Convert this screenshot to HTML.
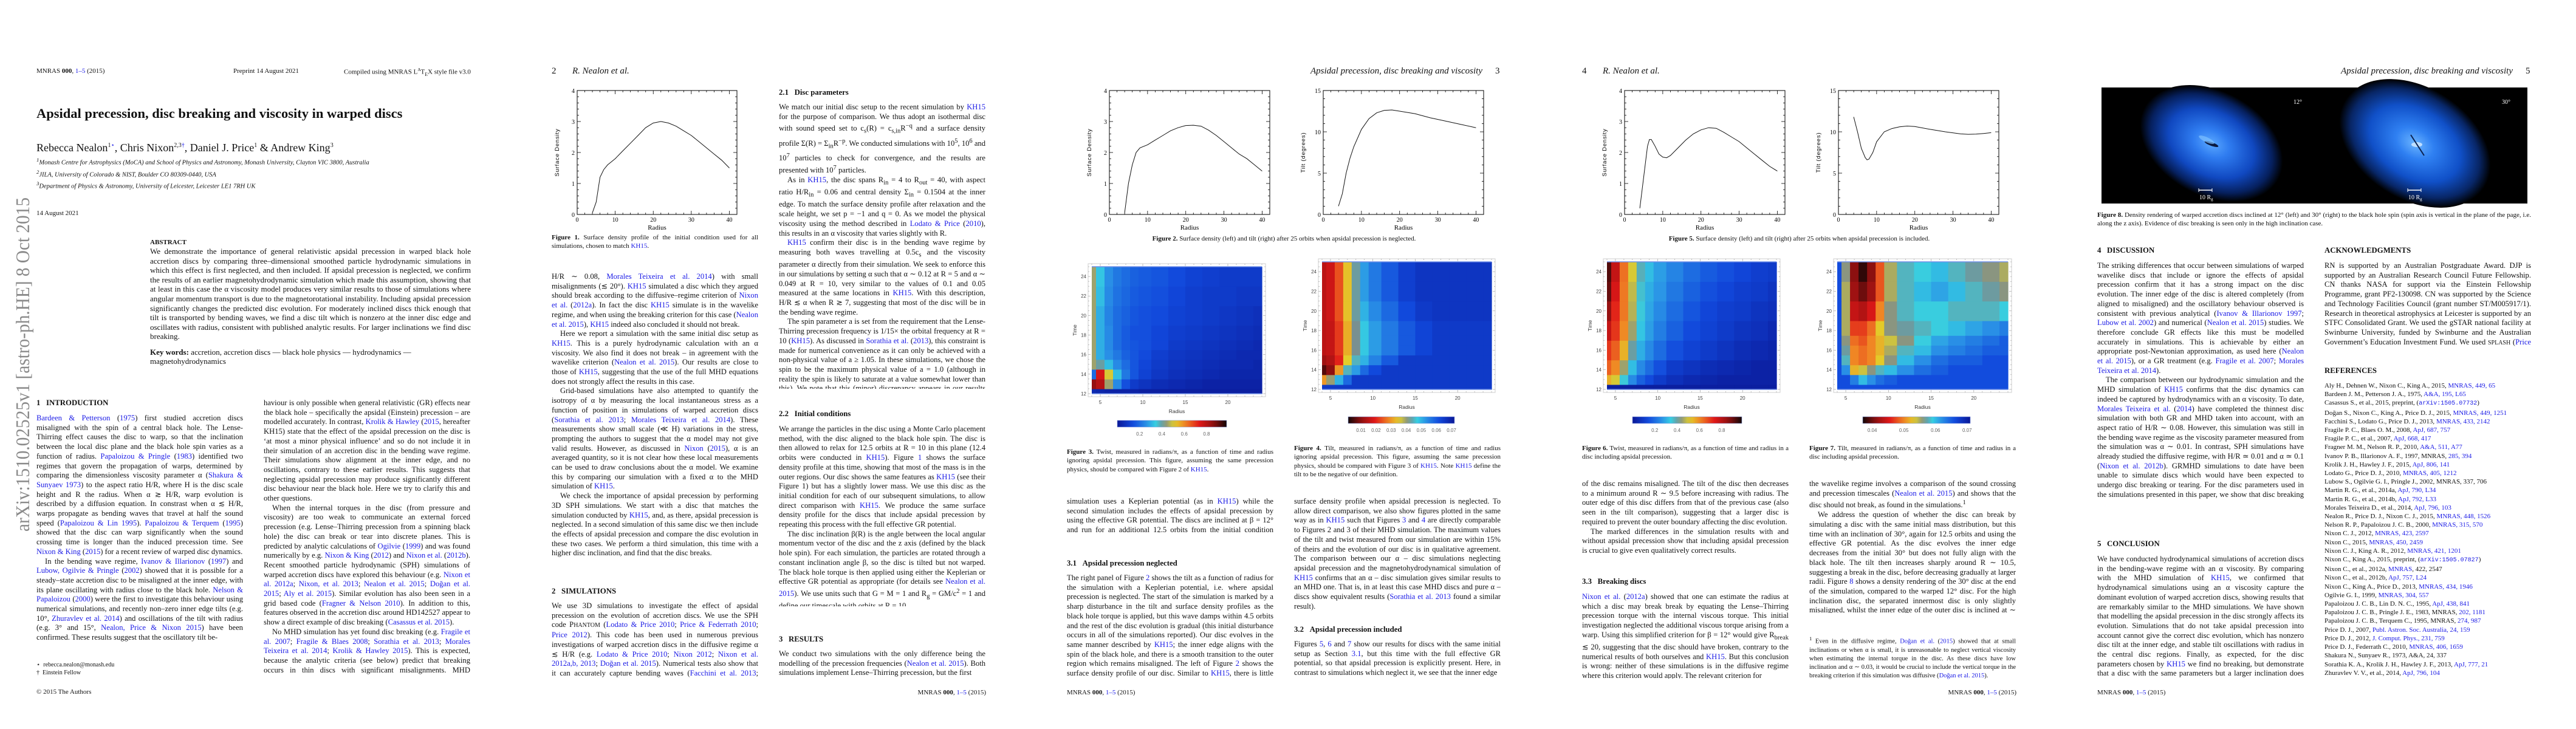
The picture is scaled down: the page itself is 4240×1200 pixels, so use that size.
<!DOCTYPE html>
<html><head><meta charset="utf-8"><title>Apsidal precession, disc breaking and viscosity in warped discs</title>
<style>
html,body{margin:0;padding:0;background:#fff;}
body{width:4240px;height:1200px;position:relative;overflow:hidden;font-family:"Liberation Serif",serif;color:#111;}
.t{position:absolute;margin:0;}
.col{position:absolute;width:340px;font-size:12.6px;line-height:15.7px;text-align:justify;overflow:hidden;}
.col p{margin:0;text-indent:0;}
.col p+p{text-indent:14px;}
.h{position:absolute;font-weight:bold;font-size:12.8px;white-space:nowrap;}
.hdr{position:absolute;font-size:11px;white-space:nowrap;}
.run{position:absolute;font-size:15px;font-style:italic;white-space:nowrap;}
.cap{position:absolute;font-size:11px;line-height:14.4px;text-align:justify;overflow:hidden;}
.foot{position:absolute;font-size:11px;white-space:nowrap;}
.b{color:#1a1ae6;}
.ref{position:absolute;left:3826px;top:628px;width:345px;font-size:11px;line-height:14.2px;}
.ref div{white-space:nowrap;overflow:hidden;}
svg text{font-family:"Liberation Sans",sans-serif;}
</style></head>
<body>

<!-- ===== PAGE 1 ===== -->
<div class="hdr" style="left:60px;top:111px">MNRAS <b>000</b>, <span class="b">1–5</span> (2015)</div>
<div class="hdr" style="left:384px;top:111px">Preprint 14 August 2021</div>
<div class="hdr" style="left:566px;top:111px">Compiled using MNRAS L<sup style="font-size:7px">A</sup>T<sub style="font-size:8px">E</sub>X style file v3.0</div>
<div class="t" style="left:60px;top:174px;font-size:22.5px;font-weight:bold;white-space:nowrap">Apsidal precession, disc breaking and viscosity in warped discs</div>
<div class="t" style="left:60px;top:233px;font-size:18px;white-space:nowrap">Rebecca Nealon<sup style="font-size:10px">1<span class="b">⋆</span></sup>, Chris Nixon<sup style="font-size:10px">2,3<span class="b">†</span></sup>, Daniel J. Price<sup style="font-size:10px">1</sup> &amp; Andrew King<sup style="font-size:10px">3</sup></div>
<div class="t" style="left:60px;top:256px;font-size:10.5px;font-style:italic;line-height:14px;white-space:nowrap"><sup>1</sup>Monash Centre for Astrophysics (MoCA) and School of Physics and Astronomy, Monash University, Clayton VIC 3800, Australia<br><sup>2</sup>JILA, University of Colorado &amp; NIST, Boulder CO 80309-0440, USA<br><sup>3</sup>Department of Physics &amp; Astronomy, University of Leicester, Leicester LE1 7RH UK</div>
<div class="hdr" style="left:60px;top:345px">14 August 2021</div>
<div class="h" style="left:247px;top:393px;font-size:11px">ABSTRACT</div>
<div class="col" style="left:247px;top:406px;width:528px;height:158px;font-size:13px;line-height:15.6px"><p>We demonstrate the importance of general relativistic apsidal precession in warped black hole accretion discs by comparing three–dimensional smoothed particle hydrodynamic simulations in which this effect is first neglected, and then included. If apsidal precession is neglected, we confirm the results of an earlier magnetohydrodynamic simulation which made this assumption, showing that at least in this case the α viscosity model produces very similar results to those of simulations where angular momentum transport is due to the magnetorotational instability. Including apsidal precession significantly changes the predicted disc evolution. For moderately inclined discs thick enough that tilt is transported by bending waves, we find a disc tilt which is nonzero at the inner disc edge and oscillates with radius, consistent with published analytic results. For larger inclinations we find disc breaking.</p></div>
<div class="col" style="left:247px;top:572px;width:528px;height:32px;font-size:13px;line-height:15.4px;text-align:left"><b>Key words:</b> accretion, accretion discs — black hole physics — hydrodynamics — magnetohydrodynamics</div>

<div class="h" style="left:60px;top:656px">1&nbsp;&nbsp;&nbsp;INTRODUCTION</div>
<div class="col" style="left:60px;top:681px;height:377px"><p><span class="b">Bardeen &amp; Petterson</span> (<span class="b">1975</span>) first studied accretion discs misaligned with the spin of a central black hole. The Lense-Thirring effect causes the disc to warp, so that the inclination between the local disc plane and the black hole spin varies as a function of radius. <span class="b">Papaloizou &amp; Pringle</span> (<span class="b">1983</span>) identified two regimes that govern the propagation of warps, determined by comparing the dimensionless viscosity parameter α (<span class="b">Shakura &amp; Sunyaev 1973</span>) to the aspect ratio H/R, where H is the disc scale height and R the radius. When α ≳ H/R, warp evolution is described by a diffusion equation. In constrast when α ≲ H/R, warps propagate as bending waves that travel at half the sound speed (<span class="b">Papaloizou &amp; Lin 1995</span>). <span class="b">Papaloizou &amp; Terquem</span> (<span class="b">1995</span>) showed that the disc can warp significantly when the sound crossing time is longer than the induced precession time. See <span class="b">Nixon &amp; King</span> (<span class="b">2015</span>) for a recent review of warped disc dynamics.</p><p>In the bending wave regime, <span class="b">Ivanov &amp; Illarionov</span> (<span class="b">1997</span>) and <span class="b">Lubow, Ogilvie &amp; Pringle</span> (<span class="b">2002</span>) showed that it is possible for a steady–state accretion disc to be misaligned at the inner edge, with its plane oscillating with radius close to the black hole. <span class="b">Nelson &amp; Papaloizou</span> (<span class="b">2000</span>) were the first to investigate this behaviour using numerical simulations, and recently non–zero inner edge tilts (e.g. 10°, <span class="b">Zhuravlev et al. 2014</span>) and oscillations of the tilt with radius (e.g. 3° and 15°, <span class="b">Nealon, Price &amp; Nixon 2015</span>) have been confirmed. These results suggest that the oscillatory tilt be-</p></div>
<div class="foot" style="left:60px;top:1088px;font-size:10px;line-height:13px">⋆&nbsp; rebecca.nealon@monash.edu<br>†&nbsp; Einstein Fellow</div>
<div class="foot" style="left:60px;top:1133px">© 2015 The Authors</div>

<div class="col" style="left:434px;top:656px;height:456px"><p>haviour is only possible when general relativistic (GR) effects near the black hole – specifically the apsidal (Einstein) precession – are modelled accurately. In contrast, <span class="b">Krolik &amp; Hawley</span> (<span class="b">2015</span>, hereafter KH15) state that the effect of the apsidal precession on the disc is ‘at most a minor physical influence’ and so do not include it in their simulation of an accretion disc in the bending wave regime. Their simulations show alignment at the inner edge, and no oscillations, contrary to these earlier results. This suggests that neglecting apsidal precession may produce significantly different disc behaviour near the black hole. Here we try to clarify this and other questions.</p><p>When the internal torques in the disc (from pressure and viscosity) are too weak to communicate an external forced precession (e.g. Lense–Thirring precession from a spinning black hole) the disc can break or tear into discrete planes. This is predicted by analytic calculations of <span class="b">Ogilvie</span> (<span class="b">1999</span>) and was found numerically by e.g. <span class="b">Nixon &amp; King</span> (<span class="b">2012</span>) and <span class="b">Nixon et al.</span> (<span class="b">2012b</span>). Recent smoothed particle hydrodynamic (SPH) simulations of warped accretion discs have explored this behaviour (e.g. <span class="b">Nixon et al. 2012a</span>; <span class="b">Nixon, et al. 2013</span>; <span class="b">Nealon et al. 2015</span>; <span class="b">Doğan et al. 2015</span>; <span class="b">Aly et al. 2015</span>). Similar evolution has also been seen in a grid based code (<span class="b">Fragner &amp; Nelson 2010</span>). In addition to this, features observed in the accretion disc around HD142527 appear to show a direct example of disc breaking (<span class="b">Casassus et al. 2015</span>).</p><p>No MHD simulation has yet found disc breaking (e.g. <span class="b">Fragile et al. 2007</span>; <span class="b">Fragile &amp; Blaes 2008</span>; <span class="b">Sorathia et al. 2013</span>; <span class="b">Morales Teixeira et al. 2014</span>; <span class="b">Krolik &amp; Hawley 2015</span>). This is expected, because the analytic criteria (see below) predict that breaking occurs in thin discs with significant misalignments. MHD simulations are currently restricted to thick discs (the thinnest has</p></div>

<!-- ===== PAGE 2 ===== -->
<div class="run" style="left:908px;top:109px;font-style:normal">2</div>
<div class="run" style="left:942px;top:109px">R. Nealon et al.</div>
<div class="cap" style="left:908px;top:384px;width:340px;height:30px"><b>Figure 1.</b> Surface density profile of the initial condition used for all simulations, chosen to match <span class="b">KH15</span>.</div>
<div class="col" style="left:908px;top:448px;height:471px"><p>H/R ∼ 0.08, <span class="b">Morales Teixeira et al. 2014</span>) with small misalignments (≲ 20°). <span class="b">KH15</span> simulated a disc which they argued should break according to the diffusive–regime criterion of <span class="b">Nixon et al.</span> (<span class="b">2012a</span>). In fact the disc <span class="b">KH15</span> simulate is in the wavelike regime, and when using the breaking criterion for this case (<span class="b">Nealon et al. 2015</span>), <span class="b">KH15</span> indeed also concluded it should not break.</p><p>Here we report a simulation with the same initial disc setup as <span class="b">KH15</span>. This is a purely hydrodynamic calculation with an α viscosity. We also find it does not break – in agreement with the wavelike criterion (<span class="b">Nealon et al. 2015</span>). Our results are close to those of <span class="b">KH15</span>, suggesting that the use of the full MHD equations does not strongly affect the results in this case.</p><p>Grid-based simulations have also attempted to quantify the isotropy of α by measuring the local instantaneous stress as a function of position in simulations of warped accretion discs (<span class="b">Sorathia et al. 2013</span>; <span class="b">Morales Teixeira et al. 2014</span>). These measurements show small scale (≪ H) variations in the stress, prompting the authors to suggest that the α model may not give valid results. However, as discussed in <span class="b">Nixon</span> (<span class="b">2015</span>), α is an averaged quantity, so it is not clear how these local measurements can be used to draw conclusions about the α model. We examine this by comparing our simulation with a fixed α to the MHD simulation of <span class="b">KH15</span>.</p><p>We check the importance of apsidal precession by performing 3D SPH simulations. We start with a disc that matches the simulation conducted by <span class="b">KH15</span>, and, as there, apsidal precession is neglected. In a second simulation of this same disc we then include the effects of apsidal precession and compare the disc evolution in these two cases. We perform a third simulation, this time with a higher disc inclination, and find that the disc breaks.</p></div>
<div class="h" style="left:908px;top:966px">2&nbsp;&nbsp;&nbsp;SIMULATIONS</div>
<div class="col" style="left:908px;top:990px;height:126px"><p>We use 3D simulations to investigate the effect of apsidal precession on the evolution of accretion discs. We use the SPH code P<span style="font-size:10px">HANTOM</span> (<span class="b">Lodato &amp; Price 2010</span>; <span class="b">Price &amp; Federrath 2010</span>; <span class="b">Price 2012</span>). This code has been used in numerous previous investigations of warped accretion discs in the diffusive regime α ≲ H/R (e.g. <span class="b">Lodato &amp; Price 2010</span>; <span class="b">Nixon 2012</span>; <span class="b">Nixon et al. 2012a,b, 2013</span>; <span class="b">Doğan et al. 2015</span>). Numerical tests also show that it can accurately capture bending waves (<span class="b">Facchini et al. 2013</span>; <span class="b">Nealon et al. 2015</span>).</p></div>

<div class="h" style="left:1282px;top:145px">2.1&nbsp;&nbsp;&nbsp;Disc parameters</div>
<div class="col" style="left:1282px;top:169px;height:471px"><p>We match our initial disc setup to the recent simulation by <span class="b">KH15</span> for the purpose of comparison. We thus adopt an isothermal disc with sound speed set to c<sub>s</sub>(R) = c<sub>s,in</sub>R<sup>−q</sup> and a surface density profile Σ(R) = Σ<sub>in</sub>R<sup>−p</sup>. We conducted simulations with 10<sup>5</sup>, 10<sup>6</sup> and 10<sup>7</sup> particles to check for convergence, and the results are presented with 10<sup>7</sup> particles.</p><p>As in <span class="b">KH15</span>, the disc spans R<sub>in</sub> = 4 to R<sub>out</sub> = 40, with aspect ratio H/R<sub>in</sub> = 0.06 and central density Σ<sub>in</sub> = 0.1504 at the inner edge. To match the surface density profile after relaxation and the scale height, we set p = −1 and q = 0. As we model the physical viscosity using the method described in <span class="b">Lodato &amp; Price</span> (<span class="b">2010</span>), this results in an α viscosity that varies slightly with R.</p><p><span class="b">KH15</span> confirm their disc is in the bending wave regime by measuring both waves travelling at 0.5c<sub>s</sub> and the viscosity parameter α directly from their simulation. We seek to enforce this in our simulations by setting α such that α ∼ 0.12 at R = 5 and α ∼ 0.049 at R = 10, very similar to the values of 0.1 and 0.05 measured at the same locations in <span class="b">KH15</span>. With this description, H/R ≲ α when R ≳ 7, suggesting that most of the disc will be in the bending wave regime.</p><p>The spin parameter a is set from the requirement that the Lense-Thirring precession frequency is 1/15× the orbital frequency at R = 10 (<span class="b">KH15</span>). As discussed in <span class="b">Sorathia et al.</span> (<span class="b">2013</span>), this constraint is made for numerical convenience as it can only be achieved with a non-physical value of a ≥ 1.05. In these simulations, we chose the spin to be the maximum physical value of a = 1.0 (although in reality the spin is likely to saturate at a value somewhat lower than this). We note that this (minor) discrepancy appears in our results in that the black hole torque appears to affect the disc more slowly than observed in <span class="b">KH15</span>.</p></div>
<div class="h" style="left:1282px;top:674px">2.2&nbsp;&nbsp;&nbsp;Initial conditions</div>
<div class="col" style="left:1282px;top:699px;height:299px"><p>We arrange the particles in the disc using a Monte Carlo placement method, with the disc aligned to the black hole spin. The disc is then allowed to relax for 12.5 orbits at R = 10 in this plane (12.4 orbits were conducted in <span class="b">KH15</span>). Figure <span class="b">1</span> shows the surface density profile at this time, showing that most of the mass is in the outer regions. Our disc shows the same features as <span class="b">KH15</span> (see their Figure 1) but has a slightly lower mass. We use this disc as the initial condition for each of our subsequent simulations, to allow direct comparison with <span class="b">KH15</span>. We produce the same surface density profile for the discs that include apsidal precession by repeating this process with the full effective GR potential.</p><p>The disc inclination β(R) is the angle between the local angular momentum vector of the disc and the z axis (defined by the black hole spin). For each simulation, the particles are rotated through a constant inclination angle β, so the disc is tilted but not warped. The black hole torque is then applied using either the Keplerian or effective GR potential as appropriate (for details see <span class="b">Nealon et al. 2015</span>). We use units such that G = M = 1 and R<sub>g</sub> = GM/c<sup>2</sup> = 1 and define our timescale with orbits at R = 10.</p></div>
<div class="h" style="left:1282px;top:1045px">3&nbsp;&nbsp;&nbsp;RESULTS</div>
<div class="col" style="left:1282px;top:1069px;height:48px"><p>We conduct two simulations with the only difference being the modelling of the precession frequencies (<span class="b">Nealon et al. 2015</span>). Both simulations implement Lense–Thirring precession, but the first</p></div>
<div class="foot" style="right:2617px;top:1134px">MNRAS <b>000</b>, <span class="b">1–5</span> (2015)</div>

<!-- ===== PAGE 3 ===== -->
<div class="run" style="right:1800px;top:109px">Apsidal precession, disc breaking and viscosity</div>
<div class="run" style="left:2461px;top:109px;font-style:normal">3</div>
<div class="cap" style="left:1756px;top:386px;width:715px;height:16px;text-align:center;white-space:nowrap"><b>Figure 2.</b> Surface density (left) and tilt (right) after 25 orbits when apsidal precession is neglected.</div>
<div class="cap" style="left:1756px;top:737px;width:340px;height:45px"><b>Figure 3.</b> Twist, measured in radians/π, as a function of time and radius ignoring apsidal precession. This figure, assuming the same precession physics, should be compared with Figure 2 of <span class="b">KH15</span>.</div>
<div class="col" style="left:1756px;top:818px;height:63px"><p>simulation uses a Keplerian potential (as in <span class="b">KH15</span>) while the second simulation includes the effects of apsidal precession by using the effective GR potential. The discs are inclined at β = 12° and run for an additional 12.5 orbits from the initial condition described in Section <span class="b">2.2</span>, as described in <span class="b">KH15</span>.</p></div>
<div class="h" style="left:1756px;top:920px">3.1&nbsp;&nbsp;&nbsp;Apsidal precession neglected</div>
<div class="col" style="left:1756px;top:944px;height:173px"><p>The right panel of Figure <span class="b">2</span> shows the tilt as a function of radius for the simulation with a Keplerian potential, i.e. where apsidal precession is neglected. The start of the simulation is marked by a sharp disturbance in the tilt and surface density profiles as the black hole torque is applied, but this wave damps within 4.5 orbits and the rest of the disc evolution is gradual (this initial disturbance occurs in all of the simulations reported). Our disc evolves in the same manner described by <span class="b">KH15</span>; the inner edge aligns with the spin of the black hole, and there is a smooth transition to the outer region which remains misaligned. The left of Figure <span class="b">2</span> shows the surface density profile of our disc. Similar to <span class="b">KH15</span>, there is little evolution of the</p></div>
<div class="foot" style="left:1756px;top:1134px">MNRAS <b>000</b>, <span class="b">1–5</span> (2015)</div>

<div class="cap" style="left:2130px;top:731px;width:340px;height:59px"><b>Figure 4.</b> Tilt, measured in radians/π, as a function of time and radius ignoring apsidal precession. This figure, assuming the same precession physics, should be compared with Figure 3 of <span class="b">KH15</span>. Note <span class="b">KH15</span> define the tilt to be the negative of our definition.</div>
<div class="col" style="left:2130px;top:818px;height:189px"><p>surface density profile when apsidal precession is neglected. To allow direct comparison, we also show figures plotted in the same way as in <span class="b">KH15</span> such that Figures <span class="b">3</span> and <span class="b">4</span> are directly comparable to Figures 2 and 3 of their MHD simulation. The maximum values of the tilt and twist measured from our simulation are within 15% of theirs and the evolution of our disc is in qualitative agreement. The comparison between our α – disc simulations neglecting apsidal precession and the magnetohydrodynamical simulation of <span class="b">KH15</span> confirms that an α – disc simulation gives similar results to an MHD one. That is, in at least this case MHD discs and pure α – discs show equivalent results (<span class="b">Sorathia et al. 2013</span> found a similar result).</p></div>
<div class="h" style="left:2130px;top:1029px">3.2&nbsp;&nbsp;&nbsp;Apsidal precession included</div>
<div class="col" style="left:2130px;top:1053px;height:64px"><p>Figures <span class="b">5</span>, <span class="b">6</span> and <span class="b">7</span> show our results for discs with the same initial setup as Section <span class="b">3.1</span>, but this time with the full effective GR potential, so that apsidal precession is explicitly present. Here, in contrast to simulations which neglect it, we see that the inner edge</p></div>

<!-- ===== PAGE 4 ===== -->
<div class="run" style="left:2604px;top:109px;font-style:normal">4</div>
<div class="run" style="left:2638px;top:109px">R. Nealon et al.</div>
<div class="cap" style="left:2604px;top:386px;width:715px;height:16px;text-align:center;white-space:nowrap"><b>Figure 5.</b> Surface density (left) and tilt (right) after 25 orbits when apsidal precession is included.</div>
<div class="cap" style="left:2604px;top:731px;width:340px;height:30px"><b>Figure 6.</b> Twist, measured in radians/π, as a function of time and radius in a disc including apsidal precession.</div>
<div class="col" style="left:2604px;top:789px;height:126px"><p>of the disc remains misaligned. The tilt of the disc then decreases to a minimum around R ∼ 9.5 before increasing with radius. The outer edge of this disc differs from that of the previous case (also seen in the tilt comparison), suggesting that a larger disc is required to prevent the outer boundary affecting the disc evolution.</p><p>The marked differences in the simulation results with and without apsidal precession show that including apsidal precession is crucial to give even qualitatively correct results.</p></div>
<div class="h" style="left:2604px;top:950px">3.3&nbsp;&nbsp;&nbsp;Breaking discs</div>
<div class="col" style="left:2604px;top:975px;height:142px"><p><span class="b">Nixon et al.</span> (<span class="b">2012a</span>) showed that one can estimate the radius at which a disc may break break by equating the Lense–Thirring precession torque with the internal viscous torque. This initial investigation neglected the additional viscous torque arising from a warp. Using this simplified criterion for β = 12° would give R<sub>break</sub> ≲ 20, suggesting that the disc should have broken, contrary to the numerical results of both ourselves and <span class="b">KH15</span>. But this conclusion is wrong: neither of these simulations is in the diffusive regime where this criterion would apply. The relevant criterion for</p></div>

<div class="cap" style="left:2978px;top:731px;width:340px;height:30px"><b>Figure 7.</b> Tilt, measured in radians/π, as a function of time and radius in a disc including apsidal precession.</div>
<div class="col" style="left:2978px;top:789px;height:220px"><p>the wavelike regime involves a comparison of the sound crossing and precession timescales (<span class="b">Nealon et al. 2015</span>) and shows that the disc should not break, as found in the simulations.<sup>1</sup></p><p>We address the question of whether the disc can break by simulating a disc with the same initial mass distribution, but this time with an inclination of 30°, again for 12.5 orbits and using the effective GR potential. As the disc evolves the inner edge decreases from the initial 30° but does not fully align with the black hole. The tilt then increases sharply around R ∼ 10.5, suggesting a break in the disc, before decreasing gradually at larger radii. Figure <span class="b">8</span> shows a density rendering of the 30° disc at the end of the simulation, compared to the warped 12° disc. For the high inclination disc, the separated innermost disc is only slightly misaligned, whilst the inner edge of the outer disc is inclined at ∼ 30°.</p></div>
<div class="cap" style="left:2978px;top:1044px;width:340px;height:74px;font-size:10.5px;line-height:14.2px"><sup>1</sup> Even in the diffusive regime, <span class="b">Doğan et al.</span> (<span class="b">2015</span>) showed that at small inclinations or when α is small, it is unreasonable to neglect vertical viscosity when estimating the internal torque in the disc. As these discs have low inclination and α ∼ 0.03, it would be crucial to include the vertical torque in the breaking criterion if this simulation was diffusive (<span class="b">Doğan et al. 2015</span>).</div>
<div class="foot" style="right:921px;top:1134px">MNRAS <b>000</b>, <span class="b">1–5</span> (2015)</div>

<!-- ===== PAGE 5 ===== -->
<div class="run" style="right:104px;top:109px">Apsidal precession, disc breaking and viscosity</div>
<div class="run" style="left:4157px;top:109px;font-style:normal">5</div>
<div class="cap" style="left:3452px;top:347px;width:714px;height:30px"><b>Figure 8.</b> Density rendering of warped accretion discs inclined at 12° (left) and 30° (right) to the black hole spin (spin axis is vertical in the plane of the page, i.e. along the z axis). Evidence of disc breaking is seen only in the high inclination case.</div>
<div class="h" style="left:3452px;top:405px">4&nbsp;&nbsp;&nbsp;DISCUSSION</div>
<div class="col" style="left:3452px;top:430px;height:392px"><p>The striking differences that occur between simulations of warped wavelike discs that include or ignore the effects of apsidal precession confirm that it has a strong impact on the disc evolution. The inner edge of the disc is altered completely (from aligned to misaligned) and the oscillatory behaviour observed is consistent with previous analytical (<span class="b">Ivanov &amp; Illarionov 1997</span>; <span class="b">Lubow et al. 2002</span>) and numerical (<span class="b">Nealon et al. 2015</span>) studies. We therefore conclude GR effects like this must be modelled accurately in simulations. This is achievable by either an appropriate post-Newtonian approximation, as used here (<span class="b">Nealon et al. 2015</span>), or a GR treatment (e.g. <span class="b">Fragile et al. 2007</span>; <span class="b">Morales Teixeira et al. 2014</span>).</p><p>The comparison between our hydrodynamic simulation and the MHD simulation of <span class="b">KH15</span> confirms that the disc dynamics can indeed be captured by hydrodynamics with an α viscosity. To date, <span class="b">Morales Teixeira et al.</span> (<span class="b">2014</span>) have completed the thinnest disc simulation with both GR and MHD taken into account, with an aspect ratio of H/R ∼ 0.08. However, this simulation was still in the bending wave regime as the viscosity parameter measured from the simulation was α ∼ 0.01. In contrast, SPH simulations have already studied the diffusive regime, with H/R ≃ 0.01 and α ≃ 0.1 (<span class="b">Nixon et al. 2012b</span>). GRMHD simulations to date have been unable to simulate discs which would have been expected to undergo disc breaking or tearing. For the disc parameters used in the simulations presented in this paper, we show that disc breaking is possible when the disc is inclined at β ≳ 30°.</p></div>
<div class="h" style="left:3452px;top:888px">5&nbsp;&nbsp;&nbsp;CONCLUSION</div>
<div class="col" style="left:3452px;top:913px;height:204px"><p>We have conducted hydrodynamical simulations of accretion discs in the bending-wave regime with an α viscosity. By comparing with the MHD simulation of <span class="b">KH15</span>, we confirmed that hydrodynamical simulations using an α viscosity capture the dominant evolution of warped accretion discs, showing results that are remarkably similar to the MHD simulations. We have shown that modelling the apsidal precession in the disc strongly affects its evolution. Simulations that do not take apsidal precession into account cannot give the correct disc evolution, which has nonzero disc tilt at the inner edge, and stable tilt oscillations with radius in the central disc regions. Finally, as expected, for the disc parameters chosen by <span class="b">KH15</span> we find no breaking, but demonstrate that a disc with the same parameters but a larger inclination does break.</p></div>
<div class="foot" style="left:3452px;top:1134px">MNRAS <b>000</b>, <span class="b">1–5</span> (2015)</div>

<div class="h" style="left:3826px;top:405px">ACKNOWLEDGMENTS</div>
<div class="col" style="left:3826px;top:430px;height:142px"><p>RN is supported by an Australian Postgraduate Award. DJP is supported by an Australian Research Council Future Fellowship. CN thanks NASA for support via the Einstein Fellowship Programme, grant PF2-130098. CN was supported by the Science and Technology Facilities Council (grant number ST/M005917/1). Research in theoretical astrophysics at Leicester is supported by an STFC Consolidated Grant. We used the gSTAR national facility at Swinburne University, funded by Swinburne and the Australian Government’s Education Investment Fund. We used <span style="font-size:10px">SPLASH</span> (<span class="b">Price 2007</span>).</p></div>
<div class="h" style="left:3826px;top:603px">REFERENCES</div>
<div class="ref">
<div>Aly H., Dehnen W., Nixon C., King A., 2015, <span class="b">MNRAS, 449, 65</span></div>
<div>Bardeen J. M., Petterson J. A., 1975, <span class="b">A&amp;A, 195, L65</span></div>
<div>Casassus S., et al., 2015, preprint, (<span class="b" style="font-family:'Liberation Mono',monospace;font-size:10px">arXiv:1505.07732</span>)</div>
<div>Doğan S., Nixon C., King A., Price D. J., 2015, <span class="b">MNRAS, 449, 1251</span></div>
<div>Facchini S., Lodato G., Price D. J., 2013, <span class="b">MNRAS, 433, 2142</span></div>
<div>Fragile P. C., Blaes O. M., 2008, <span class="b">ApJ, 687, 757</span></div>
<div>Fragile P. C., et al., 2007, <span class="b">ApJ, 668, 417</span></div>
<div>Fragner M. M., Nelson R. P., 2010, <span class="b">A&amp;A, 511, A77</span></div>
<div>Ivanov P. B., Illarionov A. F., 1997, MNRAS, <span class="b">285, 394</span></div>
<div>Krolik J. H., Hawley J. F., 2015, <span class="b">ApJ, 806, 141</span></div>
<div>Lodato G., Price D. J., 2010, <span class="b">MNRAS, 405, 1212</span></div>
<div>Lubow S., Ogilvie G. I., Pringle J., 2002, MNRAS, 337, 706</div>
<div>Martin R. G., et al., 2014a, <span class="b">ApJ, 790, L34</span></div>
<div>Martin R. G., et al., 2014b, <span class="b">ApJ, 792, L33</span></div>
<div>Morales Teixeira D., et al., 2014, <span class="b">ApJ, 796, 103</span></div>
<div>Nealon R., Price D. J., Nixon C. J., 2015, <span class="b">MNRAS, 448, 1526</span></div>
<div>Nelson R. P., Papaloizou J. C. B., 2000, <span class="b">MNRAS, 315, 570</span></div>
<div>Nixon C. J., 2012, <span class="b">MNRAS, 423, 2597</span></div>
<div>Nixon C., 2015, <span class="b">MNRAS, 450, 2459</span></div>
<div>Nixon C. J., King A. R., 2012, <span class="b">MNRAS, 421, 1201</span></div>
<div>Nixon C., King A., 2015, preprint, (<span class="b" style="font-family:'Liberation Mono',monospace;font-size:10px">arXiv:1505.07827</span>)</div>
<div>Nixon C., et al., 2012a, <span class="b">MNRAS</span>, 422, 2547</div>
<div>Nixon C., et al., 2012b, <span class="b">ApJ, 757, L24</span></div>
<div>Nixon C., King A., Price D., 2013, <span class="b">MNRAS, 434, 1946</span></div>
<div>Ogilvie G. I., 1999, <span class="b">MNRAS, 304, 557</span></div>
<div>Papaloizou J. C. B., Lin D. N. C., 1995, <span class="b">ApJ, 438, 841</span></div>
<div>Papaloizou J. C. B., Pringle J. E., 1983, MNRAS, <span class="b">202, 1181</span></div>
<div>Papaloizou J. C. B., Terquem C., 1995, MNRAS, <span class="b">274, 987</span></div>
<div>Price D. J., 2007, <span class="b">Publ. Astron. Soc. Australia, 24, 159</span></div>
<div>Price D. J., 2012, <span class="b">J. Comput. Phys., 231, 759</span></div>
<div>Price D. J., Federrath C., 2010, <span class="b">MNRAS, 406, 1659</span></div>
<div>Shakura N., Sunyaev R., 1973, A&amp;A, 24, 337</div>
<div>Sorathia K. A., Krolik J. H., Hawley J. F., 2013, <span class="b">ApJ, 777, 21</span></div>
<div>Zhuravlev V. V., et al., 2014, <span class="b">ApJ, 796, 104</span></div>
</div>

<!-- ===== GRAPHICS OVERLAY ===== -->
<svg id="gfx" width="4240" height="1200" style="position:absolute;left:0;top:0">
<defs>
<radialGradient id="discL" cx="50%" cy="50%" r="50%">
<stop offset="0" stop-color="#5aa8ff"/><stop offset="0.25" stop-color="#2f7cf0"/><stop offset="0.6" stop-color="#1048c0"/><stop offset="0.85" stop-color="#06205e"/><stop offset="1" stop-color="#000"/>
</radialGradient>
<radialGradient id="discR" cx="50%" cy="50%" r="50%">
<stop offset="0" stop-color="#6ab4ff"/><stop offset="0.25" stop-color="#2f80f2"/><stop offset="0.6" stop-color="#1050c8"/><stop offset="0.85" stop-color="#082666"/><stop offset="1" stop-color="#000"/>
</radialGradient>
</defs>
<text x="48" y="600" font-size="32" fill="#8a8a8a" transform="rotate(-90 48 600)" text-anchor="middle" textLength="550" lengthAdjust="spacingAndGlyphs" style="font-family:'Liberation Serif',serif">arXiv:1510.02525v1  [astro-ph.HE]  8 Oct 2015</text>
<g>
<rect x="3459" y="144" width="701" height="191" fill="#000"/>
<ellipse cx="3640" cy="236" rx="125" ry="86" fill="url(#discL)" transform="rotate(28 3640 236)"/>
<ellipse cx="3640" cy="237" rx="12" ry="3" fill="#0a1a40" transform="rotate(20 3640 237)"/>
<ellipse cx="3632" cy="230" rx="14" ry="4" fill="#7ec0ff" opacity="0.7" transform="rotate(25 3632 230)"/>
<ellipse cx="3975" cy="236" rx="135" ry="92" fill="url(#discR)" transform="rotate(32 3975 236)"/>
<ellipse cx="3978" cy="238" rx="9" ry="4" fill="#cfe8ff" opacity="0.85"/>
<line x1="3968" y1="222" x2="3990" y2="256" stroke="#0b2250" stroke-width="2"/>
<text x="3775" y="171" font-size="10" fill="#fff" style="font-family:'Liberation Serif',serif">12°</text>
<text x="4118" y="171" font-size="10" fill="#fff" style="font-family:'Liberation Serif',serif">30°</text>
<line x1="3619" y1="313" x2="3641" y2="313" stroke="#fff" stroke-width="1.5"/><line x1="3619" y1="310" x2="3619" y2="316" stroke="#fff"/><line x1="3641" y1="310" x2="3641" y2="316" stroke="#fff"/>
<text x="3620" y="328" font-size="10" fill="#fff" style="font-family:'Liberation Serif',serif">10 R<tspan font-size="7" dy="2">g</tspan></text>
<line x1="3963" y1="313" x2="3985" y2="313" stroke="#fff" stroke-width="1.5"/><line x1="3963" y1="310" x2="3963" y2="316" stroke="#fff"/><line x1="3985" y1="310" x2="3985" y2="316" stroke="#fff"/>
<text x="3964" y="328" font-size="10" fill="#fff" style="font-family:'Liberation Serif',serif">10 R<tspan font-size="7" dy="2">g</tspan></text>
</g>
</svg>

<script>
// ---------- Line-plot data ----------
const fig1Radius  = [4,5,6,7,8,10,12,14,16,18,20,22,24,26,28,30,32,34,36,38,40];
const fig1Density = [0.05,0.4,1.2,1.45,1.6,1.8,2.05,2.3,2.55,2.8,2.95,3.0,2.95,2.85,2.7,2.55,2.35,2.15,1.95,1.75,1.5];
const fig2Radius  = [4,5,6,7,8,10,12,14,16,18,20,22,24,26,28,30,32,34,36,38,40];
const fig2Density = [0.05,1.0,1.6,2.0,2.15,2.25,2.4,2.55,2.7,2.8,2.87,2.88,2.85,2.72,2.55,2.35,2.15,1.95,1.8,1.6,1.4];
const fig2TiltRadius = [4,5,6,7,8,10,12,14,16,18,20,24,28,32,36,40];
const fig2Tilt       = [1.0,2.5,5.0,6.8,8.2,10.3,11.6,12.3,12.6,12.65,12.5,12.2,11.7,11.3,10.9,10.5];
const fig5Radius  = [4,5,6,6.5,7,8,9,10,11,12,14,16,18,20,22,24,26,28,30,32,34,36,38,40];
const fig5Density = [0.2,1.2,2.2,2.42,2.42,2.2,1.95,1.85,1.83,1.9,2.15,2.4,2.6,2.73,2.8,2.78,2.65,2.5,2.35,2.15,1.95,1.75,1.55,1.4];
const fig5TiltRadius = [4,5,6,7,7.5,8,9,10,12,14,16,18,20,24,28,32,34,36,38,40];
const fig5Tilt       = [11.8,10.0,8.0,6.9,6.6,6.7,7.5,8.8,10.0,10.4,10.6,10.7,10.65,10.3,10.0,9.75,9.7,9.72,9.8,9.9];
const densityTicks = [0,1,2,3,4];
const tiltTicks    = [0,5,10,15];
const radiusTicks  = [0,10,20,30,40];

// ---------- Heatmap data ----------
const heatRadius = [4,5,6,7,8,9,10,12,14,16,18,20,22,24];
const fig3Time = [12,13,14,15,16,17,18,20,22,24,25];
const fig3Twist = [
 [0.05,0.04,0.03,0.03,0.03,0.03,0.02,0.02,0.02,0.02,0.02,0.02,0.02,0.02],
 [0.85,0.8,0.45,0.25,0.15,0.1,0.08,0.06,0.05,0.04,0.03,0.03,0.03,0.03],
 [0.2,0.75,0.5,0.32,0.22,0.16,0.12,0.09,0.07,0.06,0.05,0.04,0.04,0.04],
 [0.45,0.4,0.32,0.25,0.2,0.16,0.13,0.1,0.08,0.07,0.06,0.05,0.05,0.04],
 [0.45,0.3,0.26,0.22,0.18,0.16,0.14,0.11,0.09,0.08,0.07,0.06,0.05,0.05],
 [0.45,0.3,0.25,0.2,0.17,0.16,0.15,0.13,0.1,0.09,0.08,0.07,0.06,0.05],
 [0.45,0.3,0.25,0.2,0.17,0.15,0.15,0.13,0.11,0.1,0.09,0.08,0.07,0.06],
 [0.45,0.3,0.24,0.2,0.18,0.16,0.15,0.14,0.12,0.11,0.1,0.09,0.08,0.07],
 [0.45,0.32,0.25,0.21,0.19,0.17,0.16,0.15,0.13,0.11,0.1,0.1,0.09,0.09],
 [0.45,0.33,0.26,0.22,0.2,0.18,0.17,0.16,0.14,0.12,0.11,0.1,0.1,0.1],
 [0.45,0.33,0.26,0.22,0.2,0.18,0.17,0.16,0.14,0.12,0.11,0.1,0.1,0.1]
];
const fig4Time = [12,13,14,15,16,17,18,20,22,24,25];
const fig4Tilt = [
 [0.065,0.065,0.065,0.065,0.065,0.065,0.065,0.065,0.065,0.065,0.065,0.065,0.065,0.065],
 [0.03,0.04,0.05,0.058,0.065,0.065,0.065,0.065,0.065,0.065,0.065,0.065,0.065,0.065],
 [0.006,0.01,0.03,0.045,0.052,0.058,0.062,0.065,0.065,0.065,0.065,0.065,0.065,0.065],
 [0.012,0.014,0.02,0.035,0.045,0.05,0.055,0.06,0.065,0.065,0.065,0.065,0.065,0.065],
 [0.015,0.016,0.022,0.032,0.042,0.048,0.052,0.056,0.06,0.063,0.065,0.065,0.065,0.065],
 [0.015,0.016,0.022,0.032,0.042,0.048,0.052,0.056,0.06,0.063,0.065,0.065,0.065,0.065],
 [0.015,0.016,0.022,0.032,0.042,0.048,0.052,0.056,0.06,0.063,0.065,0.065,0.065,0.065],
 [0.015,0.017,0.024,0.034,0.043,0.05,0.054,0.058,0.062,0.065,0.066,0.066,0.066,0.066],
 [0.015,0.017,0.024,0.034,0.043,0.052,0.056,0.06,0.064,0.066,0.066,0.066,0.066,0.066],
 [0.015,0.017,0.024,0.034,0.043,0.052,0.056,0.06,0.064,0.066,0.066,0.066,0.066,0.066],
 [0.015,0.017,0.024,0.034,0.043,0.052,0.056,0.06,0.064,0.066,0.066,0.066,0.066,0.066]
];
const fig6Time = [12,13,14,16,18,20,22,24,25];
const fig6Twist = [
 [0.02,0.02,0.02,0.02,0.02,0.02,0.02,0.02,0.02,0.02,0.02,0.02,0.02,0.02],
 [0.55,0.5,0.35,0.25,0.18,0.14,0.1,0.07,0.05,0.04,0.03,0.03,0.03,0.03],
 [0.65,0.6,0.45,0.32,0.25,0.2,0.15,0.1,0.08,0.06,0.05,0.04,0.03,0.03],
 [0.7,0.65,0.55,0.4,0.3,0.25,0.2,0.15,0.12,0.1,0.08,0.06,0.05,0.04],
 [0.78,0.7,0.6,0.45,0.33,0.28,0.23,0.18,0.14,0.12,0.1,0.08,0.07,0.05],
 [0.85,0.72,0.62,0.47,0.35,0.29,0.25,0.2,0.16,0.13,0.11,0.1,0.08,0.07],
 [0.9,0.75,0.62,0.48,0.36,0.3,0.27,0.22,0.18,0.15,0.13,0.11,0.1,0.08],
 [0.92,0.78,0.63,0.5,0.38,0.32,0.28,0.24,0.2,0.17,0.15,0.13,0.11,0.1],
 [0.92,0.78,0.63,0.5,0.38,0.32,0.28,0.24,0.2,0.17,0.15,0.13,0.11,0.1]
];
const fig7Time = [12,13,14,15,16,17,18,20,22,24,25];
const fig7Tilt = [
 [0.066,0.066,0.066,0.066,0.066,0.066,0.066,0.066,0.066,0.066,0.066,0.066,0.066,0.066],
 [0.066,0.066,0.063,0.06,0.062,0.064,0.065,0.066,0.066,0.066,0.066,0.066,0.066,0.066],
 [0.066,0.062,0.052,0.054,0.056,0.058,0.06,0.062,0.064,0.065,0.066,0.066,0.066,0.066],
 [0.066,0.058,0.05,0.049,0.05,0.053,0.056,0.06,0.062,0.064,0.065,0.065,0.066,0.066],
 [0.066,0.057,0.05,0.049,0.05,0.052,0.055,0.058,0.06,0.062,0.063,0.064,0.065,0.065],
 [0.066,0.056,0.049,0.048,0.05,0.052,0.054,0.056,0.059,0.061,0.062,0.063,0.064,0.065],
 [0.066,0.055,0.047,0.047,0.049,0.053,0.056,0.057,0.058,0.059,0.06,0.061,0.062,0.063],
 [0.066,0.055,0.044,0.043,0.045,0.05,0.056,0.058,0.059,0.059,0.058,0.058,0.058,0.059],
 [0.066,0.055,0.042,0.04,0.042,0.048,0.055,0.058,0.06,0.061,0.06,0.058,0.057,0.056],
 [0.066,0.056,0.041,0.038,0.041,0.048,0.055,0.058,0.059,0.06,0.058,0.057,0.056,0.055],
 [0.066,0.056,0.041,0.038,0.041,0.048,0.055,0.058,0.059,0.06,0.058,0.057,0.056,0.055]
];
const heatRadiusTicks = [5,10,15,20];
const heatTimeTicks = [12,14,16,18,20,22,24];
const twistBarTicks = [0.2,0.4,0.6,0.8];
const fig4BarTicks = [0.01,0.02,0.03,0.04,0.05,0.06,0.07];
const fig7BarTicks = [0.04,0.05,0.06,0.07];

const NS = 'http://www.w3.org/2000/svg';
const gfx = document.getElementById('gfx');
function mk(tag, attrs, parent){ const e=document.createElementNS(NS,tag); for(const k in attrs) e.setAttribute(k,attrs[k]); (parent||gfx).appendChild(e); return e; }

// colormap (s in 0..1)
const cmapStops = [[0,'#0a1896'],[0.14,'#1148dc'],[0.27,'#2a92e6'],[0.35,'#36cfe2'],[0.43,'#7d8c8c'],[0.52,'#e2d12a'],[0.62,'#f08424'],[0.75,'#e01818'],[0.88,'#8e1010'],[1,'#120606']];
function hex2rgb(h){return [parseInt(h.substr(1,2),16),parseInt(h.substr(3,2),16),parseInt(h.substr(5,2),16)];}
function cmap(s){ s=Math.max(0,Math.min(1,s)); for(let i=1;i<cmapStops.length;i++){ if(s<=cmapStops[i][0]){ const a=cmapStops[i-1],b=cmapStops[i]; const f=(s-a[0])/(b[0]-a[0]); const ca=hex2rgb(a[1]),cb=hex2rgb(b[1]); return 'rgb('+ca.map((v,j)=>Math.round(v+(cb[j]-v)*f)).join(',')+')'; } } return cmapStops[cmapStops.length-1][1]; }

function linePlot(name, px, py, pw, ph, xs, ys, ymax, yTicks, yMinor, ylabel){
  const g = mk('g',{});
  
  
  const X = r => px + r/42*pw;
  const Y = v => py + ph - v/ymax*ph;
  // minor ticks
  for(let r=0;r<=42;r+=2){ const major = r%10===0; const L = major?6:3;
    mk('line',{x1:X(r),x2:X(r),y1:py+ph,y2:py+ph-L,stroke:'#000','stroke-width':0.8},g);
    mk('line',{x1:X(r),x2:X(r),y1:py,y2:py+L,stroke:'#000','stroke-width':0.8},g); }
  for(let v=0; v<=ymax+1e-9; v+=yMinor){ const major = yTicks.some(t=>Math.abs(t-v)<1e-6); const L = major?6:3;
    mk('line',{x1:px,x2:px+L,y1:Y(v),y2:Y(v),stroke:'#000','stroke-width':0.8},g);
    mk('line',{x1:px+pw,x2:px+pw-L,y1:Y(v),y2:Y(v),stroke:'#000','stroke-width':0.8},g); }
  mk('rect',{x:px,y:py,width:pw,height:ph,fill:'none',stroke:'#000','stroke-width':1},g);
  radiusTicks.forEach(t=>{ const e=mk('text',{x:X(t),y:py+ph+12,'font-size':10,'text-anchor':'middle',style:"font-family:'Liberation Serif',serif"},g); e.textContent=t; });
  yTicks.forEach(t=>{ const e=mk('text',{x:px-4,y:Y(t)+4,'font-size':10,'text-anchor':'end',style:"font-family:'Liberation Serif',serif"},g); e.textContent=t; });
  const xl=mk('text',{x:px+pw/2,y:py+ph+25,'font-size':11,'text-anchor':'middle',style:"font-family:'Liberation Serif',serif"},g); xl.textContent='Radius';
  const yl=mk('text',{x:px-30,y:py+ph/2,'font-size':9.5,'text-anchor':'middle','letter-spacing':'0.8',transform:'rotate(-90 '+(px-30)+' '+(py+ph/2)+')'},g); yl.textContent=ylabel;
  const d = xs.map((r,i)=>(i?'L':'M')+X(r).toFixed(1)+' '+Y(ys[i]).toFixed(1)).join(' ');
  const p = mk('path',{d:d,fill:'none',stroke:'#111','stroke-width':1},g);
  
  
}

function heatmap(name, px, py, pw, ph, rs, ts, vals, vmin, vmax, reverse, barX, barY, barW, barTicks){
  const g = mk('g',{});
  
  
  const X = r => px + (r-4)/20*pw;
  const Y = t => py + ph - (t-12)/13*ph;
  const norm = v => { let s=(v-vmin)/(vmax-vmin); return reverse?1-s:s; };
  // frame
  mk('rect',{x:px-6,y:py-5,width:pw+12,height:ph+10,fill:'#fff',stroke:'#cfcfcf','stroke-width':1},g);
  const rb = rs.map((r,i)=> i===0?4:(rs[i-1]+r)/2); rb.push(24);
  const tb = ts.map((t,i)=> i===0?12:(ts[i-1]+t)/2); tb.push(25);
  for(let j=0;j<ts.length;j++){
    for(let i=0;i<rs.length;i++){
      const x1=X(rb[i]), x2=X(rb[i+1]), y1=Y(tb[j+1]), y2=Y(tb[j]);
      const c = mk('rect',{x:x1.toFixed(2),y:y1.toFixed(2),width:(x2-x1+0.6).toFixed(2),height:(y2-y1+0.6).toFixed(2),fill:cmap(norm(vals[j][i]))},g);
      
      
    }
  }
  mk('line',{x1:px,x2:px+pw,y1:py,y2:py,stroke:'#6f8fe8','stroke-width':1.5},g);
  mk('line',{x1:px,x2:px+pw,y1:py+ph,y2:py+ph,stroke:'#6f8fe8','stroke-width':1.5},g);
  for(let r=4;r<=24;r+=1){ const L=(r%5===0)?4:2; mk('line',{x1:X(r),x2:X(r),y1:py+ph+5,y2:py+ph+5-L,stroke:'#999','stroke-width':0.6},g); mk('line',{x1:X(r),x2:X(r),y1:py-5,y2:py-5+L,stroke:'#999','stroke-width':0.6},g); }
  for(let t=12;t<=25;t+=0.5){ const L=(t%2===0)?4:2; mk('line',{x1:px-6,x2:px-6+L,y1:Y(t),y2:Y(t),stroke:'#999','stroke-width':0.6},g); mk('line',{x1:px+pw+6,x2:px+pw+6-L,y1:Y(t),y2:Y(t),stroke:'#999','stroke-width':0.6},g); }
  heatRadiusTicks.forEach(t=>{ const e=mk('text',{x:X(t),y:py+ph+17,'font-size':8,'text-anchor':'middle',fill:'#444'},g); e.textContent=t; });
  heatTimeTicks.forEach(t=>{ const e=mk('text',{x:px-9,y:Y(t)+3,'font-size':8,'text-anchor':'end',fill:'#444'},g); e.textContent=t; });
  const xl=mk('text',{x:px+pw/2,y:py+ph+32,'font-size':8.5,'text-anchor':'middle',fill:'#333'},g); xl.textContent='Radius';
  const yl=mk('text',{x:px-25,y:py+ph/2,'font-size':8.5,'text-anchor':'middle',fill:'#333',transform:'rotate(-90 '+(px-25)+' '+(py+ph/2)+')'},g); yl.textContent='Time';
  // colourbar
  const gid = name+'-grad';
  const lg = mk('linearGradient',{id:gid,x1:0,x2:1,y1:0,y2:0},gfx.querySelector('defs'));
  for(let k=0;k<=20;k++){ const s=k/20; mk('stop',{offset:s,'stop-color':cmap(reverse?1-s:s)},lg); }
  const bar = mk('rect',{x:barX,y:barY,width:barW,height:11,fill:'url(#'+gid+')',stroke:'#8aa0e0','stroke-width':0.6},g);
  
  
  barTicks.forEach(t=>{ const bx = barX + (t-vmin)/(vmax-vmin)*barW;
    const e=mk('text',{x:bx,y:barY+25,'font-size':8,'text-anchor':'middle',fill:'#666'},g); e.textContent=t; });
}

linePlot('figure-1-surface-density', 950,149,263,204, fig1Radius, fig1Density, 4, densityTicks, 0.2, 'Surface Density');
linePlot('figure-2-surface-density', 1826,149,264,204, fig2Radius, fig2Density, 4, densityTicks, 0.2, 'Surface Density');
linePlot('figure-2-tilt', 2178,149,264,204, fig2TiltRadius, fig2Tilt, 15, tiltTicks, 1, 'Tilt (degrees)');
linePlot('figure-5-surface-density', 2674,149,264,204, fig5Radius, fig5Density, 4, densityTicks, 0.2, 'Surface Density');
linePlot('figure-5-tilt', 3026,149,264,204, fig5TiltRadius, fig5Tilt, 15, tiltTicks, 1, 'Tilt (degrees)');

heatmap('figure-3-twist-map', 1797,439,280,209, heatRadius, fig3Time, fig3Twist, 0, 0.98, false, 1839,692,180, twistBarTicks);
heatmap('figure-4-tilt-map', 2176,431,279,210, heatRadius, fig4Time, fig4Tilt, 0.0015, 0.072, true, 2219,686,175, fig4BarTicks);
heatmap('figure-6-twist-map', 2645,431,279,210, heatRadius, fig6Time, fig6Twist, 0, 0.98, false, 2687,686,180, twistBarTicks);
heatmap('figure-7-tilt-map', 3024,431,281,210, heatRadius, fig7Time, fig7Tilt, 0.037, 0.071, true, 3066,686,177, fig7BarTicks);
</script>
</body></html>
